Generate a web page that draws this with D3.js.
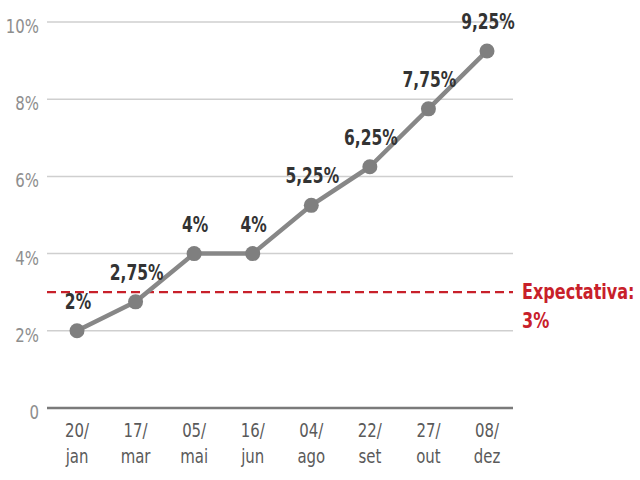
<!DOCTYPE html>
<html><head><meta charset="utf-8">
<script src="https://cdn.jsdelivr.net/npm/d3@7"></script>
<style>
html,body{margin:0;padding:0;background:#fff;}
svg{display:block;font-family:"DejaVu Sans Condensed","Liberation Sans Narrow","Liberation Sans",sans-serif;}
</style></head>
<body><svg id="c" width="640" height="480"></svg>
<script>
const dates = ["20/jan","17/mar","05/mai","16/jun","04/ago","22/set","27/out","08/dez"];
const values = [2, 2.75, 4, 4, 5.25, 6.25, 7.75, 9.25];
const valueLabels = ["2%","2,75%","4%","4%","5,25%","6,25%","7,75%","9,25%"];
const yTicks = [0, 2, 4, 6, 8, 10];
const yTickLabels = ["0","2%","4%","6%","8%","10%"];
const expectation = 3;
const expectationLabel = ["Expectativa:", "3%"];

const svg = d3.select("#c");
const x = d3.scalePoint().domain(dates).range([77, 487]);
const y = d3.scaleLinear().domain([0, 10]).range([408, 22]);
const gx0 = 47, gx1 = 513;
const K = 0.83; // horizontal condensing of text

function place(sel, fx, fy, k) {
  sel.attr("transform", (d, i) => `translate(${fx(d, i)},${fy(d, i)}) scale(${k},1)`);
}

// gridlines
svg.append("g").selectAll("line").data(yTicks.filter(d => d > 0)).join("line")
  .attr("x1", gx0).attr("x2", gx1)
  .attr("y1", d => y(d)).attr("y2", d => y(d))
  .attr("stroke", "#cfcfcf").attr("stroke-width", 1.5);

// y tick labels
svg.append("g").selectAll("text").data(yTicks).join("text")
  .call(place, () => 39, d => y(d) + 11, K)
  .attr("text-anchor", "end")
  .attr("font-size", 20).attr("fill", "#8e8e8e")
  .text((d, i) => yTickLabels[i]);

// baseline
svg.append("line").attr("x1", gx0).attr("x2", gx1)
  .attr("y1", y(0)).attr("y2", y(0))
  .attr("stroke", "#7a7a7a").attr("stroke-width", 2.5);

// x labels
const xg = svg.append("g").selectAll("g").data(dates).join("g");
xg.append("text").call(place, d => x(d), () => 437, K)
  .attr("text-anchor", "middle").attr("font-size", 20).attr("fill", "#5a5a5a")
  .text(d => d.split("/")[0] + "/");
xg.append("text").call(place, d => x(d), () => 463, K)
  .attr("text-anchor", "middle").attr("font-size", 20).attr("fill", "#5a5a5a")
  .text(d => d.split("/")[1]);

// expectation line
svg.append("line").attr("x1", gx0).attr("x2", gx1)
  .attr("y1", y(expectation)).attr("y2", y(expectation))
  .attr("stroke", "#c8202a").attr("stroke-width", 2.2)
  .attr("stroke-dasharray", "9,5");
svg.append("g").selectAll("text").data(expectationLabel).join("text")
  .call(place, () => 522, (d, i) => y(expectation) + 7 + i * 29, 0.85)
  .attr("font-size", 21).attr("font-weight", "bold").attr("fill", "#c8202a")
  .text(d => d);

// line
const line = d3.line().x((d, i) => x(dates[i])).y(d => y(d));
svg.append("path").datum(values).attr("d", line)
  .attr("fill", "none").attr("stroke", "#878787").attr("stroke-width", 4.5)
  .attr("stroke-linejoin", "round");

// points
svg.append("g").selectAll("circle").data(values).join("circle")
  .attr("cx", (d, i) => x(dates[i])).attr("cy", d => y(d)).attr("r", 7.5)
  .attr("fill", "#7f7f7f");

// value labels
svg.append("g").selectAll("text").data(values).join("text")
  .call(place, (d, i) => x(dates[i]) + 1, d => y(d) - 22, 0.82)
  .attr("text-anchor", "middle").attr("font-size", 21).attr("font-weight", "bold")
  .attr("fill", "#333333")
  .text((d, i) => valueLabels[i]);
</script></body></html>
